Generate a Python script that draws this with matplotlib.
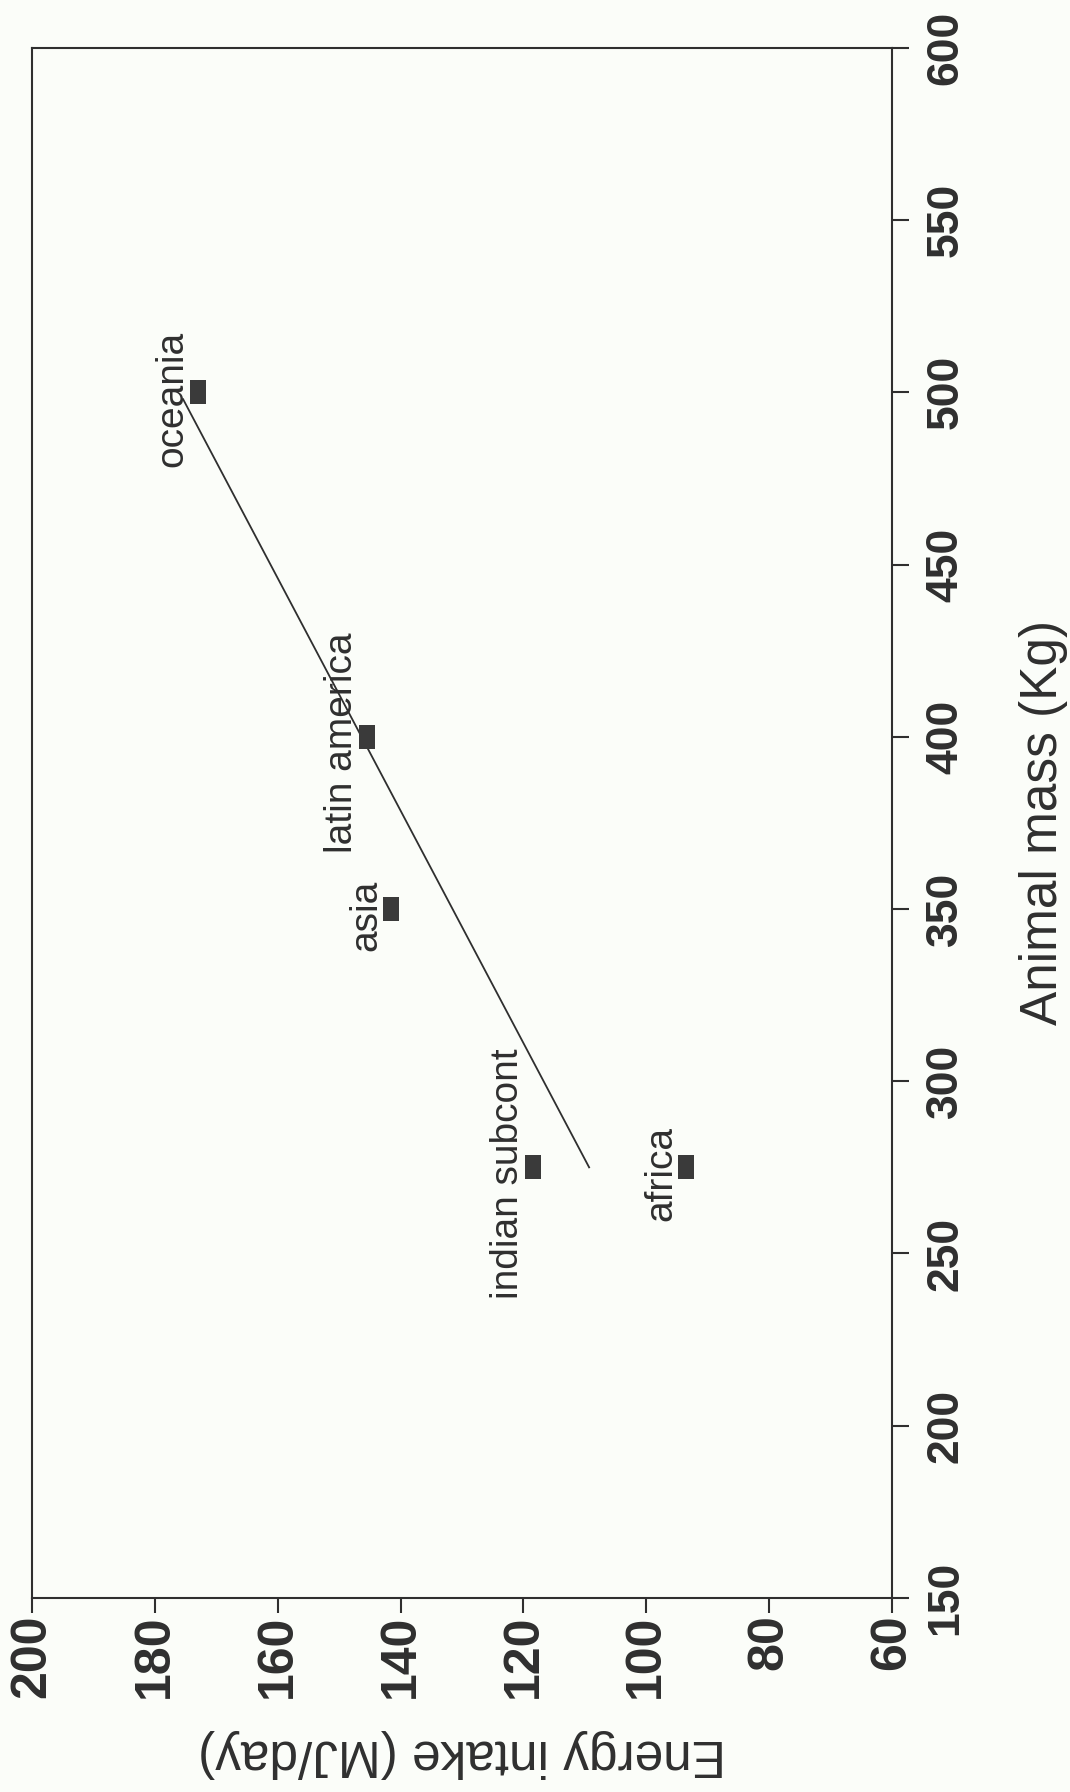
import matplotlib
matplotlib.use("Agg")
import matplotlib.pyplot as plt

regions = ["oceania", "latin america", "asia", "indian subcont", "africa"]
mass_kg = [500, 400, 350, 275, 275]
energy_mj = [173, 145.5, 141.5, 118.5, 93.5]

# regression line end points
fit_mass = [275, 498]
fit_energy = [109.3, 175.4]

mass_ticks = [150, 200, 250, 300, 350, 400, 450, 500, 550, 600]
energy_ticks = [200, 180, 160, 140, 120, 100, 80, 60]

plt.rcParams['font.family'] = ['Liberation Sans', 'DejaVu Sans']
ink = '#2f2f2f'
paper = '#fbfdf9'

fig = plt.figure(figsize=(10.7, 17.92), dpi=100, facecolor=paper)
ax = fig.add_axes([0.0299, 0.1083, 0.8037, 0.8650], facecolor=paper)

# the page is turned a quarter: energy runs along the bottom, mass up the right
ax.set_xlim(200, 60)
ax.set_ylim(150, 600)

ax.plot(fit_energy, fit_mass, color=ink, lw=1.3)

rect = [(-0.7, -1), (0.7, -1), (0.7, 1), (-0.7, 1), (-0.7, -1)]
ax.plot(energy_mj, mass_kg, ls='none', marker=rect, markersize=17,
        color='#3a3a3a', markeredgewidth=0)

for name, e, m in zip(regions, energy_mj, mass_kg):
    ax.annotate(name, (e, m), xytext=(-18, -4.5), textcoords='offset points',
                rotation=90, ha='center', va='center', fontsize=28, color=ink)

for s in ax.spines.values():
    s.set_linewidth(1.5)
    s.set_color(ink)

ax.yaxis.tick_right()
ax.yaxis.set_label_position('right')

ax.set_xticks(energy_ticks, [str(v) for v in energy_ticks], rotation=90,
              fontsize=36, fontweight='bold', color=ink)
ax.set_yticks(mass_ticks, [str(v) for v in mass_ticks], rotation=90,
              fontsize=32, fontweight='bold', color=ink, va='center')
ax.tick_params(axis='x', length=11, width=1.5, color=ink, pad=1)
ax.tick_params(axis='y', length=12, width=1.5, color=ink, pad=12)

ax.set_xlabel("Energy intake (MJ/day)", rotation=180, fontsize=37,
              color=ink, labelpad=22)
ax.set_ylabel("Animal mass (Kg)", rotation=90, fontsize=37, color=ink,
              labelpad=38)

fig.savefig("out.png", dpi=100, facecolor=paper)
